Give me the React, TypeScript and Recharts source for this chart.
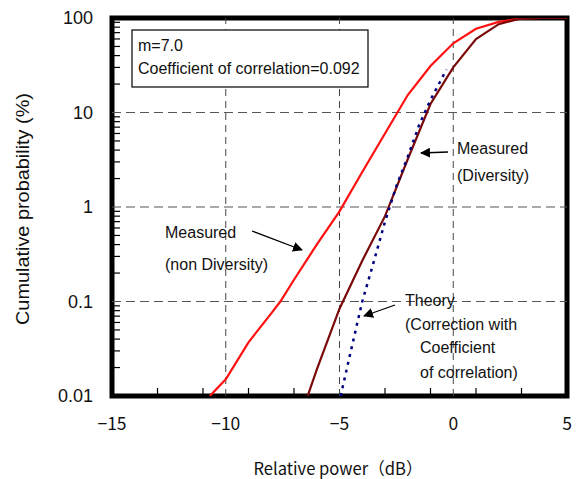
import React from "react";
import {
  ComposedChart,
  Line,
  Scatter,
  XAxis,
  YAxis,
  ReferenceLine,
  ReferenceArea,
} from "recharts";

// ---- data ----
const nonDivX = [-10.7, -10, -9, -8, -7.6, -7, -6, -5, -4, -3, -2, -1, 0, 1, 2, 3, 4, 5];
const nonDivY = [0.01, 0.015, 0.037, 0.075, 0.1, 0.17, 0.4, 0.9, 2.35, 6.0, 15.3, 31, 54, 77, 91, 99, 100, 100];

const divX = [-6.4, -6, -5, -4, -3, -2, -1, 0, 1, 2, 3, 4, 5];
const divY = [0.01, 0.019, 0.084, 0.27, 0.8, 3.2, 12.3, 30, 60, 86, 99.5, 100, 100];

const theoryX = [-4.95, -4.5, -4, -3.5, -3, -2.5, -2, -1.5, -1, -0.5, -0.3];
const theoryY = [0.01, 0.03, 0.1, 0.26, 0.7, 1.66, 3.4, 7.4, 13.6, 23, 28.5];

const xMajorTicks = [-15, -10, -5, 0, 5];
const xMinorTicks = [-13, -11, -9, -7, -3, -1, 1, 3];
const yMajorTicks = [0.01, 0.1, 1, 10, 100];
const decades = [0.01, 0.1, 1, 10];
const yMinorTicks = decades.flatMap((d) => [2, 3, 4, 5, 6, 7, 8, 9].map((k) => k * d));
const xGrid = [-10, -5, 0];
const yGrid = [0.1, 1, 10];

const X_MIN = -15;
const X_MAX = 5;
const Y_MIN = 0.01;
const Y_MAX = 100;

const nonDiv = nonDivX.map((x, i) => ({ x, y: nonDivY[i] }));
const div = divX.map((x, i) => ({ x, y: divY[i] }));
const theory = theoryX.map((x, i) => ({ x, y: theoryY[i] }));
const yMinorPts = yMinorTicks.map((y) => ({ x: X_MIN, y }));
const xMinorPts = xMinorTicks.map((x) => ({ x, y: Y_MIN }));

const GOTHIC = "'Noto Sans CJK JP', 'Noto Sans', sans-serif";
const HELV = "'Liberation Sans', Arial, sans-serif";

const fmtX = (v: number) => String(v).replace("-", "\u2212");
const fmtY = (v: number) => String(v);

const XTick = (props: any) => {
  const { x, y, payload } = props;
  return (
    <text x={x} y={y + 34} textAnchor="middle" fontSize={17.5} fontFamily={GOTHIC} fill="#111">
      {fmtX(payload.value)}
    </text>
  );
};

const YTick = (props: any) => {
  const { x, y, payload } = props;
  return (
    <text x={x - 19} y={y} dy="0.36em" textAnchor="end" fontSize={18} fontFamily={HELV} fill="#111">
      {fmtY(payload.value)}
    </text>
  );
};

const YMinorShape = (p: any) => (
  <line x1={p.cx} x2={p.cx + 8} y1={p.cy} y2={p.cy} stroke="#000" strokeWidth={1.2} />
);
const XMinorShape = (p: any) => (
  <line x1={p.cx} x2={p.cx} y1={p.cy} y2={p.cy - 8} stroke="#000" strokeWidth={1.2} />
);

export default function App() {
  return (
    <div style={{ position: "absolute", left: 0, top: 0, width: 578, height: 479, background: "#fff" }}>
      <div style={{ position: "absolute", left: 0, top: 0 }}>
        <ComposedChart
          width={578}
          height={479}
          margin={{ top: 18, right: 11, bottom: 0, left: 0 }}
        >
          <XAxis
            dataKey="x"
            type="number"
            domain={[X_MIN, X_MAX]}
            ticks={xMajorTicks}
            tick={XTick}
            tickLine={false}
            axisLine={false}
            tickSize={0}
            tickMargin={0}
            height={83}
            interval={0}
            allowDataOverflow
          />
          <YAxis
            dataKey="y"
            type="number"
            scale="log"
            domain={[Y_MIN, Y_MAX]}
            ticks={yMajorTicks}
            tick={YTick}
            tickLine={false}
            axisLine={false}
            tickSize={0}
            tickMargin={0}
            width={112}
            interval={0}
            allowDataOverflow
          />
          {xGrid.map((v) => (
            <ReferenceLine key={"gx" + v} x={v} stroke="#444" strokeWidth={1} strokeDasharray="7 5" />
          ))}
          {yGrid.map((v) => (
            <ReferenceLine key={"gy" + v} y={v} stroke="#555" strokeWidth={1.2} strokeDasharray="9 5" />
          ))}
          <Scatter data={yMinorPts} dataKey="y" shape={YMinorShape} isAnimationActive={false} />
          <Scatter data={xMinorPts} dataKey="y" shape={XMinorShape} isAnimationActive={false} />
          <Line
            data={nonDiv}
            dataKey="y"
            type="linear"
            stroke="#ff1010"
            strokeWidth={2.2}
            dot={false}
            isAnimationActive={false}
          />
          <Line
            data={div}
            dataKey="y"
            type="linear"
            stroke="#7a0a0a"
            strokeWidth={2.2}
            dot={false}
            isAnimationActive={false}
          />
          <Line
            data={theory}
            dataKey="y"
            type="linear"
            stroke="#000080"
            strokeWidth={2.5}
            strokeDasharray="3 5"
            dot={false}
            isAnimationActive={false}
          />
          <ReferenceArea
            x1={X_MIN}
            x2={X_MAX}
            y1={Y_MIN}
            y2={Y_MAX}
            fill="none"
            fillOpacity={0}
            stroke="#000"
            strokeWidth={5}
            ifOverflow="visible"
          />
        </ComposedChart>
      </div>
      <svg
        width={578}
        height={479}
        style={{ position: "absolute", left: 0, top: 0, pointerEvents: "none" }}
      >
        <defs>
          <marker id="ah" viewBox="0 0 10 10" refX="9" refY="5" markerWidth="10" markerHeight="10" orient="auto" markerUnits="userSpaceOnUse">
            <path d="M0,0 L10,5 L0,10 z" fill="#000" />
          </marker>
        </defs>
        <text
          x={23}
          y={209}
          transform="rotate(-90 23 209)"
          textAnchor="middle"
          dominantBaseline="central"
          fontSize={17.5}
          fontFamily={HELV}
          textLength={232}
          lengthAdjust="spacingAndGlyphs"
          fill="#111"
        >
          Cumulative probability (%)
        </text>
        <text
          x={338}
          y={467}
          textAnchor="middle"
          dominantBaseline="central"
          fontSize={17}
          fontFamily={GOTHIC}
          textLength={169}
          lengthAdjust="spacingAndGlyphs"
          fill="#111"
        >
          Relative power（dB）
        </text>
        <rect x={132} y={30} width={236} height={57} fill="#fff" stroke="#000" strokeWidth={1.2} />
        <g fontSize={16} fontFamily={HELV} fill="#111">
          <text x={138} y={51}>m=7.0</text>
          <text x={138} y={74}>Coefficient of correlation=0.092</text>
          <text x={457} y={154}>Measured</text>
          <text x={457} y={181}>(Diversity)</text>
          <text x={165} y={238}>Measured</text>
          <text x={165} y={270}>(non Diversity)</text>
          <text x={405} y={306}>Theory</text>
          <text x={405} y={330}>(Correction with</text>
          <text x={420} y={353}>Coefficient</text>
          <text x={420} y={378}>of correlation)</text>
        </g>
        <line x1={448} y1={152} x2={421} y2={153} stroke="#000" strokeWidth={1.3} markerEnd="url(#ah)" />
        <line x1={252} y1={231} x2={302} y2={250} stroke="#000" strokeWidth={1.3} markerEnd="url(#ah)" />
        <line x1={395} y1={305} x2={364} y2={316} stroke="#000" strokeWidth={1.3} markerEnd="url(#ah)" />
      </svg>
    </div>
  );
}
